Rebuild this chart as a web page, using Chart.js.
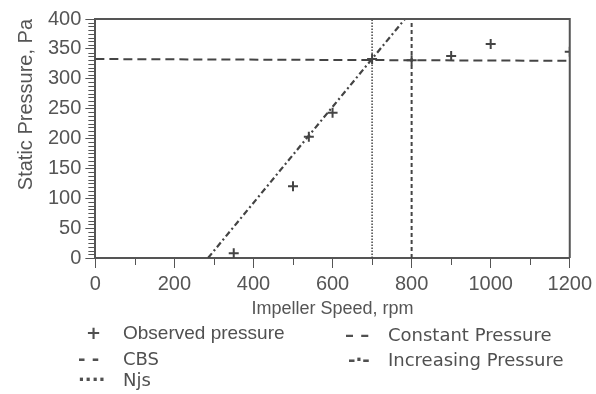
<!DOCTYPE html>
<html>
<head>
<meta charset="utf-8">
<script src="https://cdn.jsdelivr.net/npm/chart.js@4/dist/chart.umd.min.js"></script>
<style>
  body { margin: 0; background: #fff; }
  #wrap { position: relative; width: 596px; height: 394px; }
  #chart { position: absolute; left: 0; top: 0; }
  .lg { position: absolute; color: #505050; font-size: 18px; line-height: 22px; white-space: pre; }
  .sym { font-family: "DejaVu Sans", sans-serif; font-weight: bold; }
  .h { font-family: "Liberation Sans", Arial, sans-serif; font-size: 19px; }
  .g { font-family: "DejaVu Sans", sans-serif; }
</style>
</head>
<body>
<div id="wrap">
  <canvas id="chart" width="596" height="394"></canvas>
  <div id="legend"></div>
</div>
<script>
// data
const observedSpeed = [350, 500, 540, 600, 700, 800, 900, 1000, 1200];
const observedPressure = [8, 120, 203, 243, 333, 331, 338, 358, 345];
const constSpeed = [0, 1200];
const constPressure = [333, 330];
const cbsSpeed = [800, 800];
const cbsPressure = [0, 400];
const incSpeed = [285, 783];
const incPressure = [0, 400];
const njsSpeed = [700, 700];
const njsPressure = [0, 400];

const ink = '#555';
const lineInk = '#444';

function pts(xs, ys) { return xs.map((x, i) => ({ x: x, y: ys[i] })); }

// box around plot + minor ticks
const frame = {
    id: 'frame',
    afterDraw(chart) {
        const ctx = chart.ctx;
        const a = chart.chartArea;
        const xs = chart.scales.x, ys = chart.scales.y;
        ctx.save();
        ctx.strokeStyle = ink;
        ctx.lineWidth = 2;
        ctx.beginPath();
        ctx.moveTo(a.left, a.top); ctx.lineTo(a.right, a.top); ctx.lineTo(a.right, a.bottom);
        ctx.stroke();
        ctx.lineWidth = 1;
        ctx.beginPath();
        for (let v = 0; v <= 400; v += 6.25) {
            if (v % 50 === 0) continue;
            const y = Math.round(ys.getPixelForValue(v)) + 0.5;
            ctx.moveTo(a.left - 7, y); ctx.lineTo(a.left, y);
        }
        for (let v = 100; v < 1200; v += 200) {
            const x = Math.round(xs.getPixelForValue(v)) + 0.5;
            ctx.moveTo(x, a.bottom); ctx.lineTo(x, a.bottom + 7);
        }
        ctx.stroke();
        ctx.restore();
    }
};

const ctx = document.getElementById('chart').getContext('2d');
const chart = new Chart(ctx, {
    type: 'scatter',
    data: {
        datasets: [
            { label: 'Observed pressure', data: pts(observedSpeed, observedPressure), pointStyle: 'cross',
              radius: 5, borderColor: lineInk, borderWidth: 2, showLine: false },
            { label: 'Constant Pressure', data: pts(constSpeed, constPressure), showLine: true, radius: 0,
              borderColor: lineInk, borderWidth: 2, borderDash: [9, 5] },
            { label: 'CBS', data: pts(cbsSpeed, cbsPressure), showLine: true, radius: 0,
              borderColor: lineInk, borderWidth: 2, borderDash: [4, 3] },
            { label: 'Increasing Pressure', data: pts(incSpeed, incPressure), showLine: true, radius: 0,
              borderColor: lineInk, borderWidth: 2.2, borderDash: [6, 3, 2, 3] },
            { label: 'Njs', data: pts(njsSpeed, njsPressure), showLine: true, radius: 0,
              borderColor: lineInk, borderWidth: 1.5, borderDash: [1.5, 1.5] }
        ]
    },
    options: {
        responsive: false,
        animation: false,
        layout: { padding: { top: 19, right: 8, left: 14, bottom: 74 } },
        plugins: { legend: { display: false }, tooltip: { enabled: false } },
        scales: {
            x: {
                min: 0, max: 1200,
                afterFit: s => { s.height = 62; },
                ticks: { stepSize: 200, color: ink, font: { family: 'Liberation Sans', size: 20 }, padding: 4,
                         maxRotation: 0, callback: v => String(v) },
                grid: { drawOnChartArea: false, tickLength: 10, color: ink },
                border: { color: ink, width: 2 },
                title: { display: true, text: 'Impeller Speed, rpm', color: ink,
                         font: { family: 'Liberation Sans', size: 18 }, padding: { top: 0, bottom: 0 } }
            },
            y: {
                min: 0, max: 400,
                ticks: { stepSize: 50, color: ink, font: { family: 'Liberation Sans', size: 20 }, padding: 4,
                         callback: v => String(v) },
                grid: { drawOnChartArea: false, tickLength: 10, color: ink },
                border: { color: ink, width: 2 },
                title: { display: true, text: 'Static Pressure, Pa', color: ink, align: 'end',
                         font: { family: 'Liberation Sans', size: 20 }, padding: { top: 0, bottom: 6 } }
            }
        }
    },
    plugins: [frame]
});

// legend laid out like the figure, two columns
const legendItems = [
    { sym: '+', text: 'Observed pressure', cls: 'h', sx: 86, tx: 123, y: 322 },
    { sym: '- -', text: 'CBS', cls: 'g', sx: 78, tx: 123, y: 348 },
    { sym: '····', text: 'Njs', cls: 'g', sx: 78, tx: 123, y: 369 },
    { sym: '– –', text: 'Constant Pressure', cls: 'g', sx: 345, tx: 388, y: 324 },
    { sym: '-·-', text: 'Increasing Pressure', cls: 'g', sx: 348, tx: 388, y: 349 }
];
const legendEl = document.getElementById('legend');
legendItems.forEach(it => {
    const s = document.createElement('div');
    s.className = 'lg sym';
    s.style.left = it.sx + 'px'; s.style.top = it.y + 'px';
    s.textContent = it.sym;
    const t = document.createElement('div');
    t.className = 'lg ' + it.cls;
    t.style.left = it.tx + 'px'; t.style.top = it.y + 'px';
    t.textContent = it.text;
    legendEl.appendChild(s);
    legendEl.appendChild(t);
});
</script>
</body>
</html>
